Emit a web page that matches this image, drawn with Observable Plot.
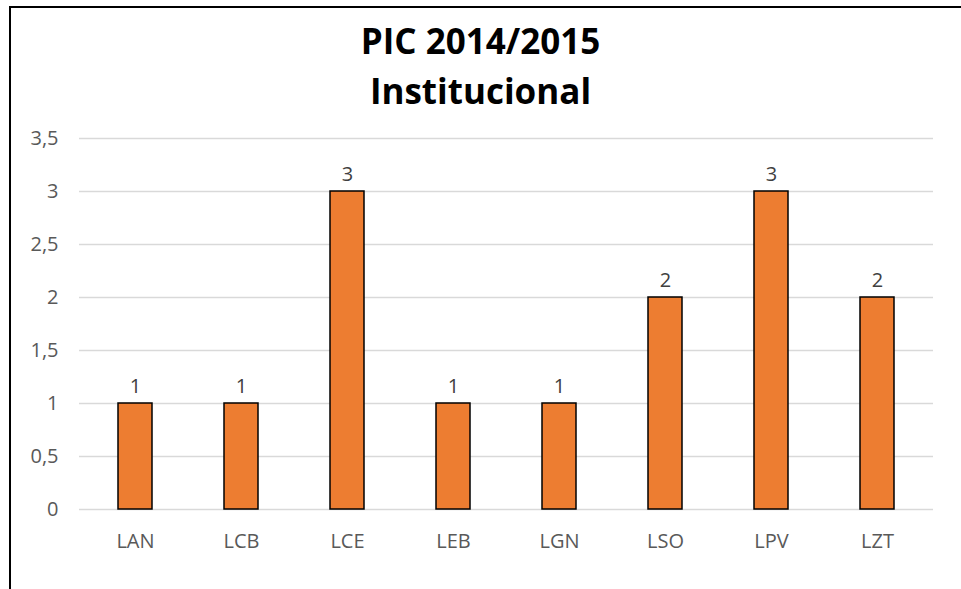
<!DOCTYPE html>
<html>
<head>
<meta charset="utf-8">
<script src="https://cdn.jsdelivr.net/npm/d3@7"></script>
<script src="https://cdn.jsdelivr.net/npm/@observablehq/plot@0.6"></script>
<style>
  html, body { margin: 0; padding: 0; background: #fff; }
  #wrap { position: relative; width: 961px; height: 589px; overflow: hidden; font-family: "Open Sans", sans-serif; }
  #frame { position: absolute; left: 9px; top: 6px; width: 1000px; height: 700px; border-left: 2px solid #000; border-top: 2px solid #000; box-sizing: border-box; }
  #title { position: absolute; left: 0; top: 16px; width: 961px; text-align: center; font-weight: bold; font-size: 35px; line-height: 50px; color: #000; font-family: "Open Sans", sans-serif; }
  #chart { position: absolute; left: 0; top: 115px; }
</style>
</head>
<body>
<div id="wrap">
  <div id="frame"></div>
  <div id="title">PIC 2014/2015<br>Institucional</div>
  <div id="chart"></div>
</div>
<script>
const categories = ["LAN", "LCB", "LCE", "LEB", "LGN", "LSO", "LPV", "LZT"];
const values = [1, 1, 3, 1, 1, 2, 3, 2];
const yTicks = [0, 0.5, 1, 1.5, 2, 2.5, 3, 3.5];

const data = categories.map((c, i) => ({cat: c, val: values[i]}));
const fmt = v => String(v).replace(".", ",");

const plot = Plot.plot({
  width: 961,
  height: 474,
  marginLeft: 79,
  marginRight: 28,
  marginTop: 23,
  marginBottom: 80,
  style: { fontFamily: "Open Sans, sans-serif", color: "#595959", background: "transparent" },
  x: { domain: categories, paddingInner: 0.68, paddingOuter: 0.34 },
  y: { domain: [0, 3.5] },
  marks: [
    Plot.gridY(yTicks, { stroke: "#D9D9D9", strokeOpacity: 1, strokeWidth: 1.5 }),
    Plot.axisY(yTicks, { tickFormat: fmt, label: null, tickSize: 0, tickPadding: 21, fontSize: 20, fill: "#595959" }),
    Plot.axisX({ label: null, tickSize: 0, tickPadding: 24, fontSize: 20, fill: "#595959" }),
    Plot.barY(data, { x: "cat", y: "val", fill: "#ED7D31", stroke: "#000", strokeWidth: 1.5 }),
    Plot.text(data, { x: "cat", y: "val", text: d => fmt(d.val), dy: -17, fill: "#404040", fontSize: 20 })
  ]
});
document.getElementById("chart").appendChild(plot);
</script>
</body>
</html>
